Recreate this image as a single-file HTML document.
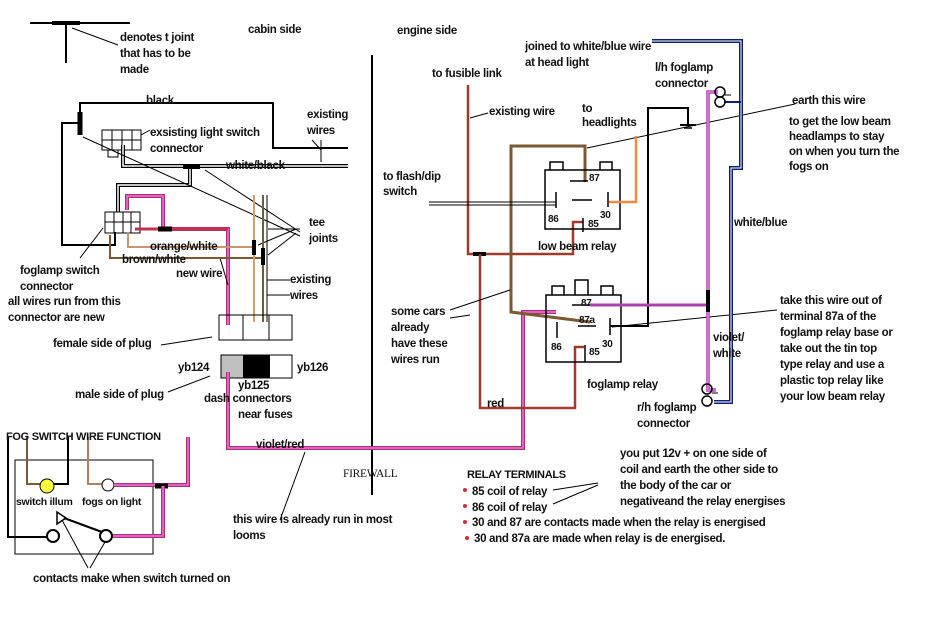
<!DOCTYPE html>
<html><head><meta charset="utf-8"><style>
html,body{margin:0;padding:0;background:#fff}
svg{display:block}
text{font-family:"Liberation Sans",Arial,sans-serif;font-weight:bold;font-size:11.5px;fill:#111;letter-spacing:-0.3px}
</style></head><body>
<svg width="938" height="622" viewBox="0 0 938 622" xmlns="http://www.w3.org/2000/svg">
<rect width="938" height="622" fill="#fff"/>
<g fill="none" stroke-linecap="butt">
<line x1="30" y1="23" x2="130" y2="23" stroke="#000" stroke-width="2"/>
<line x1="52" y1="23" x2="80" y2="23" stroke="#000" stroke-width="4"/>
<line x1="66" y1="23" x2="66" y2="63" stroke="#000" stroke-width="2"/>
<line x1="72" y1="28" x2="118" y2="45" stroke="#000" stroke-width="1"/>
<line x1="372" y1="55" x2="372" y2="495" stroke="#000" stroke-width="2"/>

<polyline points="80,123 80,103 273,103 273,148 348,148" stroke="#000" stroke-width="2"/>
<polyline points="80,123 62,123 62,245 115,245 115,232" stroke="#000" stroke-width="2"/>
<line x1="80" y1="112" x2="80" y2="135" stroke="#000" stroke-width="5"/>
<line x1="321" y1="140" x2="321" y2="162" stroke="#000" stroke-width="1"/>
<line x1="312" y1="140" x2="321" y2="150" stroke="#000" stroke-width="1"/>
<rect x="102" y="130" width="39" height="20" stroke="#000" stroke-width="1"/>
<line x1="112" y1="130" x2="112" y2="150" stroke="#000"/><line x1="122" y1="130" x2="122" y2="150" stroke="#000"/><line x1="132" y1="130" x2="132" y2="150" stroke="#000"/>
<line x1="102" y1="140" x2="141" y2="140" stroke="#000"/>
<rect x="108" y="150" width="10" height="7" stroke="#000"/>
<line x1="141" y1="135" x2="150" y2="130" stroke="#000"/>
<polyline points="123,145 123,166 348,166" stroke="#000" stroke-width="4"/>
<polyline points="123,145 123,166 348,166" stroke="#fff" stroke-width="1.5"/>
<polyline points="190,166 190,185 118,185 118,212" stroke="#000" stroke-width="4"/>
<polyline points="190,166 190,185 118,185 118,212" stroke="#fff" stroke-width="1.5"/>
<line x1="183" y1="167" x2="200" y2="167" stroke="#000" stroke-width="4"/>
<line x1="83" y1="137" x2="300" y2="236" stroke="#000" stroke-width="1"/>
<line x1="205" y1="170" x2="300" y2="232" stroke="#000" stroke-width="1"/>
<line x1="258" y1="245" x2="296" y2="229" stroke="#000" stroke-width="1"/>
<line x1="268" y1="255" x2="296" y2="233" stroke="#000" stroke-width="1"/>
<line x1="268" y1="229" x2="300" y2="229" stroke="#000" stroke-width="1"/>
<rect x="105" y="212" width="35" height="21" stroke="#000" stroke-width="1"/>
<line x1="114" y1="212" x2="114" y2="233" stroke="#000"/><line x1="123" y1="212" x2="123" y2="233" stroke="#000"/><line x1="131" y1="212" x2="131" y2="233" stroke="#000"/>
<line x1="105" y1="222" x2="140" y2="222" stroke="#000"/>
<line x1="103" y1="228" x2="80" y2="258" stroke="#000"/>
<polyline points="127,210 127,196 163,196 163,229 228,229 228,325" stroke="#b0306a" stroke-width="4"/>
<polyline points="127,210 127,196 163,196 163,229 228,229 228,325" stroke="#f070f0" stroke-width="1.5"/>
<polyline points="135,229 228,229" stroke="#c03050" stroke-width="3"/>
<line x1="158" y1="229" x2="172" y2="229" stroke="#000" stroke-width="5"/>
<line x1="220" y1="258" x2="228" y2="285" stroke="#000" stroke-width="1"/>
<polyline points="128,232 128,247 253,247" stroke="#c8966c" stroke-width="2"/>
<polyline points="110,235 110,258 262,258" stroke="#7a5a30" stroke-width="2"/>
<line x1="254" y1="195" x2="254" y2="322" stroke="#d0a070" stroke-width="2"/>
<line x1="263" y1="195" x2="263" y2="322" stroke="#7a5a30" stroke-width="2"/>
<line x1="267" y1="195" x2="267" y2="322" stroke="#000" stroke-width="1"/>
<line x1="254" y1="240" x2="254" y2="255" stroke="#000" stroke-width="4"/>
<line x1="263" y1="248" x2="263" y2="265" stroke="#000" stroke-width="4"/>
<line x1="267" y1="280" x2="290" y2="280" stroke="#000" stroke-width="1"/>
<line x1="267" y1="295" x2="290" y2="295" stroke="#000" stroke-width="1"/>
<rect x="219" y="315" width="73" height="25" stroke="#000" stroke-width="1"/>
<line x1="243" y1="315" x2="243" y2="340" stroke="#000"/><line x1="269" y1="315" x2="269" y2="340" stroke="#000"/>
<line x1="161" y1="345" x2="212" y2="337" stroke="#000"/>
<rect x="221" y="355" width="22" height="23" fill="#c0c0c0"/>
<rect x="243" y="355" width="27" height="23" fill="#000"/>
<rect x="221" y="355" width="71" height="23" stroke="#000" stroke-width="1"/>
<line x1="168" y1="392" x2="210" y2="376" stroke="#000"/>
<polyline points="228,372 228,448 523,448 523,312 556,312" stroke="#b0306a" stroke-width="4"/>
<polyline points="228,372 228,448 523,448 523,312 556,312" stroke="#f070f0" stroke-width="1.5"/>
<line x1="305" y1="452" x2="280" y2="520" stroke="#000" stroke-width="1"/>

<rect x="15" y="460" width="138" height="94" stroke="#000" stroke-width="1"/>
<polyline points="8,437 8,537 48,537" stroke="#000" stroke-width="2"/>
<polyline points="27,437 27,484 44,484" stroke="#7a5a30" stroke-width="2"/>
<polyline points="68,437 68,484 52,484" stroke="#000" stroke-width="2"/>
<polyline points="88,437 88,484 102,484" stroke="#b08060" stroke-width="2"/>
<circle cx="47" cy="486" r="7" fill="#ffff40" stroke="#000"/>
<circle cx="108" cy="485" r="6" fill="#fff" stroke="#000"/>
<polyline points="114,485 188,485 188,437" stroke="#b0306a" stroke-width="4"/>
<polyline points="114,485 188,485 188,437" stroke="#f070f0" stroke-width="1.5"/>
<line x1="155" y1="486" x2="168" y2="486" stroke="#000" stroke-width="5"/>
<polyline points="163,486 163,536 110,536" stroke="#b0306a" stroke-width="4"/>
<polyline points="163,486 163,536 110,536" stroke="#f070f0" stroke-width="1.5"/>
<circle cx="53" cy="536" r="6" fill="#fff" stroke="#000" stroke-width="2"/>
<circle cx="106" cy="536" r="6" fill="#fff" stroke="#000" stroke-width="2"/>
<line x1="102" y1="532" x2="64" y2="518" stroke="#000" stroke-width="2"/>
<polygon points="57,512 57,524 66,518" stroke="#000" stroke-width="1.5"/>
<line x1="62" y1="520" x2="88" y2="568" stroke="#000"/>
<line x1="105" y1="542" x2="90" y2="568" stroke="#000"/>

<polyline points="468,85 468,254 573,254 573,222 583,222" stroke="#a03a2a" stroke-width="2.5"/>
<line x1="473" y1="254" x2="486" y2="254" stroke="#000" stroke-width="4"/>
<polyline points="480,254 480,408 575,408 575,347 584,347" stroke="#a03a2a" stroke-width="2.5"/>
<line x1="470" y1="118" x2="488" y2="113" stroke="#000"/>
<polyline points="585,182 585,146 511,146 511,312 590,322" stroke="#7a5a30" stroke-width="3"/>
<line x1="587" y1="148" x2="795" y2="104" stroke="#000" stroke-width="1"/>
<line x1="450" y1="310" x2="510" y2="290" stroke="#000"/>
<line x1="450" y1="318" x2="470" y2="315" stroke="#000"/>
<line x1="429" y1="202" x2="556" y2="202" stroke="#000"/>
<line x1="429" y1="205" x2="556" y2="205" stroke="#000"/>
<rect x="545" y="170" width="75" height="59" stroke="#000" stroke-width="1.5"/>
<polyline points="550,170 550,162 563,162 563,170" stroke="#000" stroke-width="1.5"/>
<polyline points="600,170 600,162 612,162 612,170" stroke="#000" stroke-width="1.5"/>
<line x1="570" y1="181" x2="588" y2="181" stroke="#000" stroke-width="1.5"/>
<line x1="556" y1="192" x2="556" y2="208" stroke="#000" stroke-width="1.5"/>
<line x1="608" y1="192" x2="608" y2="207" stroke="#000" stroke-width="1.5"/>
<line x1="572" y1="200" x2="592" y2="200" stroke="#000" stroke-width="1.5"/>
<line x1="583" y1="218" x2="583" y2="232" stroke="#000" stroke-width="1.5"/>
<polyline points="609,202 636,202 636,136" stroke="#f08a40" stroke-width="2.5"/>
<rect x="546" y="295" width="75" height="67" stroke="#000" stroke-width="1.5"/>
<polyline points="552,295 552,286 564,286 564,295" stroke="#000" stroke-width="1.5"/>
<polyline points="575,295 575,280 588,280 588,295" stroke="#000" stroke-width="1.5"/>
<polyline points="601,295 601,286 613,286 613,295" stroke="#000" stroke-width="1.5"/>
<line x1="572" y1="305" x2="590" y2="305" stroke="#000" stroke-width="1.5"/>
<line x1="578" y1="326" x2="596" y2="326" stroke="#000" stroke-width="1.5"/>
<line x1="610" y1="318" x2="610" y2="335" stroke="#000" stroke-width="1.5"/>
<line x1="557" y1="322" x2="557" y2="338" stroke="#000" stroke-width="1.5"/>
<line x1="585" y1="345" x2="585" y2="362" stroke="#000" stroke-width="1.5"/>
<polyline points="610,326 648,326 648,108 688,108 688,125" stroke="#000" stroke-width="2"/>
<line x1="680" y1="125" x2="696" y2="125" stroke="#000" stroke-width="2"/>
<line x1="684" y1="128" x2="692" y2="128" stroke="#000" stroke-width="1.5"/>
<line x1="612" y1="327" x2="777" y2="310" stroke="#000"/>
<polyline points="590,305 708,305" stroke="#b040b0" stroke-width="3"/>
<polyline points="718,92 708,92 708,390 716,390" stroke="#b040b0" stroke-width="3.5"/>
<polyline points="718,92 708,92 708,390 716,390" stroke="#f0a0f0" stroke-width="1"/>
<line x1="708" y1="290" x2="708" y2="312" stroke="#000" stroke-width="4"/>
<polyline points="652,41 741,41 741,168 731,168 731,402 714,402" stroke="#102070" stroke-width="4"/>
<polyline points="652,41 741,41 741,168 731,168 731,402 714,402" stroke="#fff" stroke-width="1"/>
<line x1="724" y1="102" x2="741" y2="102" stroke="#102070" stroke-width="2"/>
<circle cx="720" cy="92" r="5" stroke="#000" stroke-width="1.5"/>
<circle cx="720" cy="102" r="5" stroke="#000" stroke-width="1.5"/>
<line x1="725" y1="95" x2="731" y2="95" stroke="#000"/>
<circle cx="707" cy="389" r="5" stroke="#000" stroke-width="1.5"/>
<circle cx="707" cy="401" r="5" stroke="#000" stroke-width="1.5"/>
<line x1="712" y1="393" x2="718" y2="393" stroke="#000"/>
<line x1="553" y1="490" x2="598" y2="483" stroke="#000"/>
<line x1="553" y1="504" x2="598" y2="485" stroke="#000"/>
</g>
<g fill="#d03030"><circle cx="465" cy="490" r="2"/><circle cx="465" cy="506" r="2"/><circle cx="465" cy="522" r="2"/><circle cx="467" cy="538" r="2"/></g>

<text x="120" y="41">denotes t joint</text>
<text x="120" y="57">that has to be</text>
<text x="120" y="73">made</text>
<text x="248" y="33">cabin side</text>
<text x="397" y="34">engine side</text>
<text x="146" y="104">black</text>
<text x="150" y="136">exsisting light switch</text>
<text x="150" y="152">connector</text>
<text x="307" y="118">existing</text>
<text x="307" y="134">wires</text>
<text x="226" y="169">white/black</text>
<text x="309" y="226">tee</text>
<text x="309" y="242">joints</text>
<text x="150" y="250">orange/white</text>
<text x="122" y="263">brown/white</text>
<text x="176" y="277">new wire</text>
<text x="290" y="283">existing</text>
<text x="290" y="299">wires</text>
<text x="20" y="274">foglamp switch</text>
<text x="20" y="290">connector</text>
<text x="8" y="305">all wires run from this</text>
<text x="8" y="321">connector are new</text>
<text x="53" y="347">female side of plug</text>
<text x="178" y="371">yb124</text>
<text x="297" y="371">yb126</text>
<text x="238" y="389">yb125</text>
<text x="75" y="398">male side of plug</text>
<text x="204" y="402">dash connectors</text>
<text x="238" y="418">near fuses</text>
<text x="256" y="448">violet/red</text>
<text x="6" y="440" style="font-size:11px">FOG SWITCH WIRE FUNCTION</text>
<text x="16" y="505" style="font-size:10.5px">switch illum</text>
<text x="82" y="505" style="font-size:10.5px">fogs on light</text>
<text x="33" y="582">contacts make when switch turned on</text>
<text x="233" y="523">this wire is already run in most</text>
<text x="233" y="539">looms</text>
<text x="343" y="477" style="font-weight:normal;font-family:'Liberation Serif',serif">FIREWALL</text>

<text x="525" y="50">joined to white/blue wire</text>
<text x="525" y="66">at head light</text>
<text x="432" y="77">to fusible link</text>
<text x="489" y="115">existing wire</text>
<text x="582" y="112">to</text>
<text x="582" y="126">headlights</text>
<text x="655" y="71">l/h foglamp</text>
<text x="655" y="87">connector</text>
<text x="792" y="104">earth this wire</text>
<text x="789" y="125">to get the low beam</text>
<text x="789" y="140">headlamps to stay</text>
<text x="789" y="155">on when you turn the</text>
<text x="789" y="170">fogs on</text>
<text x="383" y="180">to flash/dip</text>
<text x="383" y="195">switch</text>
<text x="589" y="181" style="font-size:10px">87</text>
<text x="548" y="222" style="font-size:10px">86</text>
<text x="600" y="218" style="font-size:10px">30</text>
<text x="588" y="227" style="font-size:10px">85</text>
<text x="538" y="250">low beam relay</text>
<text x="734" y="226">white/blue</text>
<text x="581" y="306" style="font-size:10px">87</text>
<text x="579" y="323" style="font-size:10px">87a</text>
<text x="551" y="350" style="font-size:10px">86</text>
<text x="602" y="347" style="font-size:10px">30</text>
<text x="589" y="355" style="font-size:10px">85</text>
<text x="391" y="315">some cars</text>
<text x="391" y="331">already</text>
<text x="391" y="347">have these</text>
<text x="391" y="363">wires run</text>
<text x="780" y="304">take this wire out of</text>
<text x="780" y="320">terminal 87a of the</text>
<text x="780" y="336">foglamp relay base or</text>
<text x="780" y="352">take out the tin top</text>
<text x="780" y="368">type relay and use a</text>
<text x="780" y="384">plastic top relay like</text>
<text x="780" y="400">your low beam relay</text>
<text x="713" y="341">violet/</text>
<text x="713" y="357">white</text>
<text x="587" y="388">foglamp relay</text>
<text x="487" y="407">red</text>
<text x="637" y="411">r/h foglamp</text>
<text x="637" y="427">connector</text>
<text x="467" y="478" style="font-size:11px">RELAY TERMINALS</text>
<text x="472" y="495">85 coil of relay</text>
<text x="472" y="511">86 coil of relay</text>
<text x="472" y="526">30 and 87 are contacts made when the relay is energised</text>
<text x="474" y="542">30 and 87a are made when relay is de energised.</text>
<text x="620" y="457">you put 12v + on one side of</text>
<text x="620" y="473">coil and earth the other side to</text>
<text x="620" y="489">the body of the car or</text>
<text x="620" y="505">negativeand the relay energises</text>
</svg>
</body></html>
